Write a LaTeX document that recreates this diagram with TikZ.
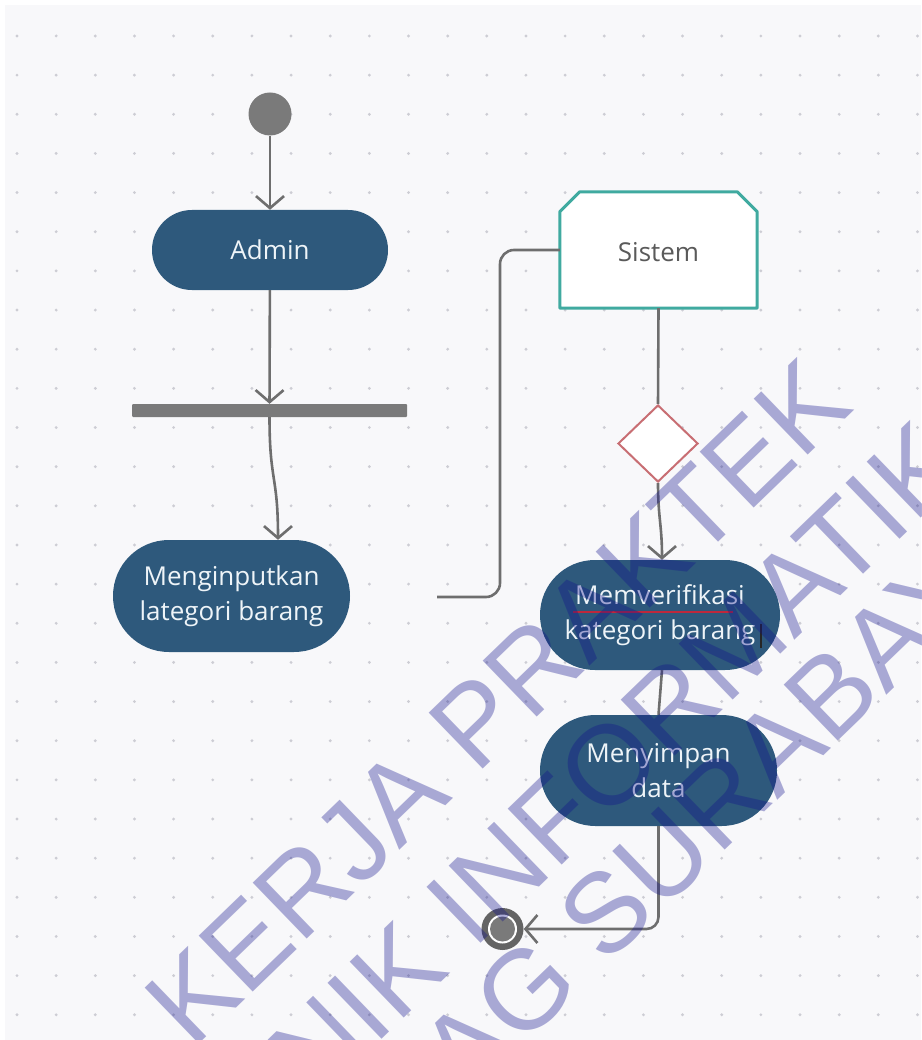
\documentclass[tikz,border=0pt]{standalone}
\usepackage{fontspec}
\setmainfont{Open Sans}
\newfontfamily\wmfont{Liberation Sans}
\usetikzlibrary{arrows.meta,calc,shapes.geometric}

\definecolor{canvas}{RGB}{248,248,250}
\definecolor{gridDot}{RGB}{205,205,212}
\definecolor{actBlue}{RGB}{46,89,124}
\definecolor{actText}{RGB}{238,244,248}
\definecolor{wire}{RGB}{110,110,110}
\definecolor{sysTeal}{RGB}{64,170,160}
\definecolor{decRed}{RGB}{200,110,115}
\definecolor{markGray}{RGB}{122,122,122}
\definecolor{endDark}{RGB}{100,100,100}
\definecolor{labelGray}{RGB}{90,90,90}
\definecolor{spellRed}{RGB}{190,40,60}
\definecolor{stampBlue}{RGB}{15,15,140}

\begin{document}
\begin{tikzpicture}[x=1pt,y=-1pt,
  act/.style={fill=actBlue, text=actText, inner sep=0pt, align=center,
              font=\fontsize{26}{35}\selectfont},
  flow/.style={draw=wire, line width=2.6pt},
  tip/.style={-{Straight Barb[length=12pt,width=28pt,line width=2.6pt]}},
  stamp/.style={text=stampBlue, text opacity=0.34, rotate=44, inner sep=0pt,
                font={\wmfont\fontsize{113}{113}\selectfont}},
]
\useasboundingbox (0,0) rectangle (921,1040);
\fill[white] (0,0) rectangle (921,1040);
\fill[canvas] (5,5) rectangle (921,1040);
\foreach \i in {0,...,23}
  \foreach \j in {0,...,25}
    \fill[gridDot] (17+39.15*\i,36+39.15*\j) circle[radius=1.6pt];

% admin swimlane
\node[circle, fill=markGray, minimum size=43pt, inner sep=0pt] (start) at (270,114) {};
\node[act, minimum width=236pt, minimum height=80pt, rounded corners=39.9pt] (admin) at (270,250) {Admin};
\node[fill=markGray, minimum width=275pt, minimum height=13pt, inner sep=0pt, rounded corners=1pt] (fork) at (269.5,410.5) {};
\node[act, minimum width=237pt, minimum height=112pt, rounded corners=55.9pt] (inp) at (231.5,596) {Menginputkan\\lategori barang};

% system swimlane
\node[minimum width=197pt, minimum height=116pt, inner sep=0pt] (sys) at (658.5,250) {};
\filldraw[fill=white, draw=sysTeal, line width=3pt, line join=round]
  (sys.south west) -- ($(sys.north west)+(0,20)$) -- ($(sys.north west)+(20,0)$)
  -- ($(sys.north east)+(-20,0)$) -- ($(sys.north east)+(0,20)$) -- (sys.south east) -- cycle;
\node[text=labelGray, font=\fontsize{26}{30}\selectfont, inner sep=0pt] (syslabel) at ($(sys.center)+(0,2)$) {Sistem};

\node[diamond, aspect=1, draw=decRed, fill=white, line width=2pt, minimum width=80pt, minimum height=77pt, inner sep=0pt] (dec) at (658,443.5) {};
\node[act, minimum width=240pt, minimum height=110pt, rounded corners=54.9pt] (ver) at (660,615) {Memverifikasi\\kategori barang};
\node[act, minimum width=237pt, minimum height=111pt, rounded corners=55.4pt] (sav) at (658.5,770.5) {Menyimpan\\data};

% final node
\node[circle, fill=endDark, minimum size=42pt, inner sep=0pt] (end) at (502.5,929) {};
\fill[white] (end.center) circle[radius=14.5pt];
\fill[markGray] (end.center) circle[radius=12.5pt];

% spell-check underline and text cursor
\draw[spellRed, line width=1.6pt] ($(ver.center)+(-87,-3)$) -- ($(ver.center)+(73,-3)$);
\draw[black!85, line width=1.4pt] ($(ver.center)+(101,9)$) -- ($(ver.center)+(101,33)$);

% flows
\coordinate (loose) at (437,597);
\draw[flow,tip] (start) -- (admin);
\draw[flow,tip] (admin) -- (fork);
\draw[flow,tip] (fork.south) .. controls +(0,65) and +(0,-65) .. ([xshift=46.5pt]inp.north);
\draw[flow, rounded corners=14pt] (sys.west) -| ([xshift=63pt]loose) -- (loose);
\draw[flow] (sys.south) -- (dec.north);
\draw[flow,tip] (dec.south) .. controls +(0,35) and +(0,-35) .. ([xshift=2pt]ver.north);
\draw[flow] ([xshift=2pt]ver.south) -- (sav.north);
\draw[flow,tip, rounded corners=12pt] (sav.south) |- (end.east);

% watermark
\begin{scope}
  \clip (0,0) rectangle (921,1040);
  \node[stamp] (wm1) at (497.5,702.5) {KERJA PRAKTEK};
  \node[stamp] (wm2) at (563.5,809.6) {TEKNIK INFORMATIKA};
  \node[stamp] (wm3) at (643.8,875.4) {UNTAG SURABAYA};
\end{scope}
\end{tikzpicture}
\end{document}
